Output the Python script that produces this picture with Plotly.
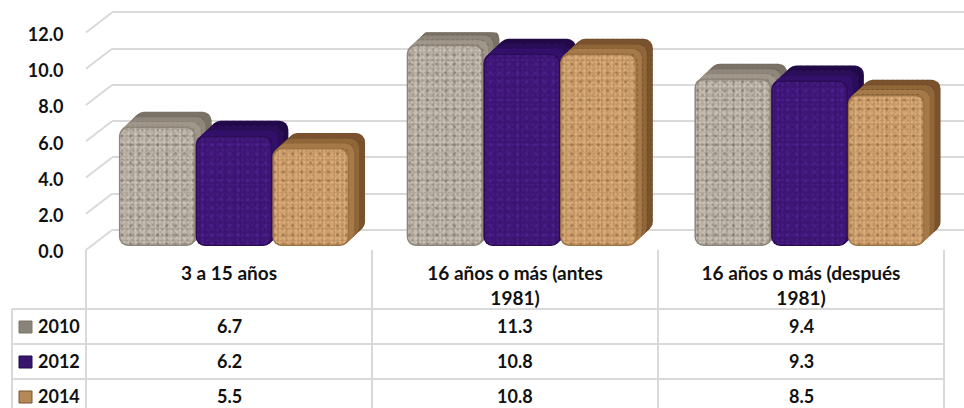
import plotly.graph_objects as go

categories = ["3 a 15 años", "16 años o más (antes<br>1981)", "16 años o más (después<br>1981)"]
years = ["2010", "2012", "2014"]
v2010 = [6.7, 11.3, 9.4]
v2012 = [6.2, 10.8, 9.3]
v2014 = [5.5, 10.8, 8.5]
y_ticks = [0, 2, 4, 6, 8, 10, 12]

W, H = 964, 408
FONT = "Lato"
TXT = "#111111"
GRID = "#d9d9d9"


def dx(a, b):
    return [a / W, b / W]


def dy(bottom, top):
    return [1 - bottom / H, 1 - top / H]


styles = [
    dict(rim="#8d857a", key="#8a8378", depth=["#7a7266", "#8f877b", "#a0978a"], base="#b6ada2",
         dots=[("#7f776c", 3, 0.22), ("#e2dbd1", 4, 0.30), ("#777064", 5, 0.20), ("#d5cec3", 7, 0.28), ("#6f685e", 9, 0.12)],
         side=("#5f584e", 5, 0.3)),
    dict(rim="#2a0d55", key="#3a1570", depth=["#220a48", "#2a0e58", "#33116a"], base="#3f1678",
         dots=[("#2f0f60", 4, 0.28), ("#4f2194", 5, 0.25), ("#33126a", 7, 0.25), ("#58289f", 9, 0.12)],
         side=("#3f1678", 7, 0.3)),
    dict(rim="#9c7245", key="#b58858", depth=["#7a532e", "#906739", "#a67a49"], base="#cb9b67",
         dots=[("#a06f42", 3, 0.22), ("#ecc89b", 4, 0.30), ("#a87849", 5, 0.22), ("#e0b684", 7, 0.28), ("#8a5f37", 9, 0.12)],
         side=("#5f3f22", 5, 0.3)),
]

BAR_PX = 76.7
SPACING = 287.75
UNIT_PX = 17.8
DEPTH_X = 16.0
DEPTH_Y = 15.0
LAYERS = 16
BAR_W = BAR_PX / SPACING

fig = go.Figure()

# back wall (gridlines) and front plane (tick labels)
fig.add_trace(go.Scatter(x=[0], y=[0], xaxis="x", yaxis="y", mode="none", hoverinfo="skip", showlegend=False))
fig.add_trace(go.Scatter(x=categories, y=[0, 0, 0], xaxis="x2", yaxis="y2", mode="none", hoverinfo="skip", showlegend=False))


def face(values, left, width, lift, color, radius, pattern=None):
    n = len(values)
    marker = dict(color=color, cornerradius=radius, line=dict(width=0))
    if pattern:
        marker["color"] = "rgba(0,0,0,0)"
        marker["pattern"] = pattern
    fig.add_trace(go.Bar(
        x=list(range(n)), y=values, base=[lift] * n,
        offset=left, width=width, marker=marker,
        xaxis="x3", yaxis="y3", showlegend=False, hoverinfo="skip",
    ))


for i, values in enumerate([v2010, v2012, v2014]):
    st = styles[i]
    left = (i - 1.5) * BAR_W
    for k in range(LAYERS, 0, -1):
        f = k / LAYERS
        col = st["depth"][0] if f > 0.66 else st["depth"][1] if f > 0.33 else st["depth"][2]
        face(values, left + f * DEPTH_X / SPACING, BAR_W, f * DEPTH_Y / UNIT_PX, col, 9)
        if k % 5 == 1:
            c, s, sol = st["side"]
            face(values, left + f * DEPTH_X / SPACING, BAR_W, f * DEPTH_Y / UNIT_PX, c, 9,
                 pattern=dict(shape=".", size=s, solidity=sol, fgcolor=c, bgcolor="rgba(0,0,0,0)"))
    face(values, left, BAR_W, 0, st["rim"], 9)
    inset = 1.5 / SPACING
    in_h = [v - 3 / UNIT_PX for v in values]
    face(in_h, left + inset, BAR_W - 2 * inset, 1.5 / UNIT_PX, st["base"], 8)
    for col, size, sol in st["dots"]:
        face(in_h, left + inset, BAR_W - 2 * inset, 1.5 / UNIT_PX, col, 8,
             pattern=dict(shape=".", size=size, solidity=sol, fgcolor=col, bgcolor="rgba(0,0,0,0)"))

shapes = []


def line(x0, y0, x1, y1):
    shapes.append(dict(type="line", xref="paper", yref="paper", x0=x0 / W, x1=x1 / W,
                       y0=1 - y0 / H, y1=1 - y1 / H, line=dict(color=GRID, width=2), layer="below"))


FRONT_ZERO, FRONT_TOP = 250.0, 32.5
BACK_ZERO, BACK_TOP = 230.0, 12.5
LEFT, BACK_LEFT = 86.0, 112.0
BACK_PX = (BACK_ZERO - BACK_TOP) / 12
for t in y_ticks:
    fy = FRONT_ZERO + (FRONT_TOP - FRONT_ZERO) * t / 12
    by = BACK_ZERO + (BACK_TOP - BACK_ZERO) * t / 12
    line(LEFT, fy, BACK_LEFT, by)

COLS = [86, 372, 658, 944]
for c in COLS:
    line(c, 250, c, 408)
line(12, 309, 12, 408)
ROWS = [309, 344, 379]
for r in ROWS:
    line(12, r, 944, r)

annotations = []
ROW_CENTERS = [325.5, 360.5, 395.5]
for r, (yr, vals) in enumerate(zip(years, [v2010, v2012, v2014])):
    yc = ROW_CENTERS[r]
    annotations.append(dict(text=yr, xref="paper", yref="paper", x=36 / W, y=1 - yc / H,
                            xanchor="left", yanchor="middle", showarrow=False,
                            font=dict(family=FONT, size=18, color=TXT, weight="bold")))
    shapes.append(dict(type="rect", xref="paper", yref="paper", x0=19 / W, x1=32 / W,
                       y0=1 - (yc - 4.5) / H, y1=1 - (yc + 7.5) / H,
                       fillcolor=styles[r]["key"], line=dict(color=styles[r]["depth"][0], width=1)))
    for j, v in enumerate(vals):
        annotations.append(dict(text=f"{v:.1f}", xref="x2", yref="paper", x=j, y=1 - yc / H,
                                xanchor="center", yanchor="middle", showarrow=False,
                                font=dict(family=FONT, size=18, color=TXT, weight="bold")))

tick_font = dict(family=FONT, size=18, color=TXT, weight="bold")
hidden = dict(showgrid=False, zeroline=False, showline=False, showticklabels=False, ticks="")

fig.update_layout(
    width=W, height=H, autosize=False,
    margin=dict(l=0, r=0, t=0, b=0, autoexpand=False),
    paper_bgcolor="white", plot_bgcolor="rgba(0,0,0,0)",
    barmode="overlay", showlegend=False,
    shapes=shapes, annotations=annotations,
    xaxis=dict(domain=dx(BACK_LEFT, 964), range=[0, 1], **hidden),
    yaxis=dict(domain=dy(BACK_ZERO + 0.5 * BACK_PX, BACK_TOP - 0.5 * BACK_PX), range=[-0.5, 12.5],
               tickvals=y_ticks, showgrid=True,
               gridcolor=GRID, gridwidth=2, zeroline=False, showticklabels=False, ticks="", showline=False),
    xaxis2=dict(domain=dx(86, 944), anchor="y2", type="category", categoryorder="array",
                categoryarray=categories, range=[-0.5, 2.5],
                tickmode="array", tickvals=categories, ticktext=categories,
                showgrid=False, zeroline=False, showline=False,
                ticks="outside", ticklen=4, tickcolor="rgba(0,0,0,0)",
                tickfont=dict(family=FONT, size=19, color=TXT, weight="bold")),
    yaxis2=dict(domain=dy(FRONT_ZERO + 2, FRONT_TOP + 2), anchor="x2", range=[0, 12], tickvals=y_ticks,
                tickformat=".1f", showgrid=False, zeroline=False, showline=False,
                ticks="outside", ticklen=18, tickcolor="rgba(0,0,0,0)", tickfont=tick_font),
    xaxis3=dict(domain=dx(90.1, 953.4), anchor="y3", range=[-0.5, 2.5], **hidden),
    yaxis3=dict(domain=dy(246, 246 - 12 * UNIT_PX), anchor="x3", range=[0, 12], **hidden),
)

fig.write_html("out.html", config={"displayModeBar": False},
               post_script="document.body.style.margin='0';")
